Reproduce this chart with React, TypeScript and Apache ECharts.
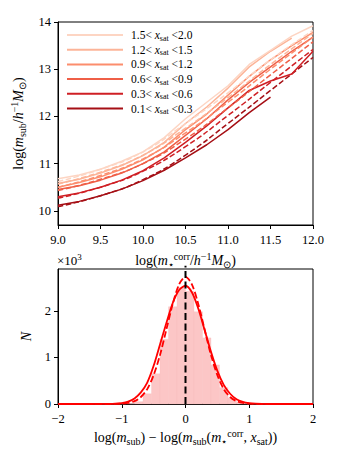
import React, { useEffect, useRef } from "react";
import * as echarts from "echarts";

const SERIF = "'Liberation Serif', 'Times New Roman', serif";

// ---------- top panel data ----------
const X_DATA = [9, 9.25, 9.5, 9.75, 10, 10.25, 10.5, 10.75, 11, 11.25, 11.5, 11.75, 12];
const X_MODEL = [9, 9.5, 10, 10.5, 11, 11.5, 12];

const GROUP_LO = ["0.1", "0.3", "0.6", "0.9", "1.2", "1.5"];
const GROUP_HI = ["0.3", "0.6", "0.9", "1.2", "1.5", "2.0"];
const GROUP_COLORS = ["#a50f15", "#cf1f24", "#ef5f47", "#fc8d6d", "#fcb498", "#fdd5c3"];

// measured (solid) log m_sub
const DATA_01 = [10.12, 10.2, 10.32, 10.46, 10.64, 10.86, 11.12, 11.4, 11.72, 12.08, 12.41];
const DATA_03 = [10.3, 10.38, 10.5, 10.65, 10.85, 11.12, 11.45, 11.8, 12.18, 12.55, 12.75, 12.9, 13.38];
const DATA_06 = [10.45, 10.53, 10.65, 10.8, 11.0, 11.25, 11.6, 11.95, 12.35, 12.72, 13.05, 13.38, 13.68];
const DATA_09 = [10.5, 10.6, 10.72, 10.88, 11.08, 11.35, 11.72, 12.05, 12.45, 12.85, 13.2, 13.5, 13.78];
const DATA_12 = [10.58, 10.67, 10.8, 10.96, 11.17, 11.45, 11.85, 12.2, 12.6, 13.05, 13.38, 13.66];
const DATA_15 = [10.68, 10.76, 10.88, 11.05, 11.25, 11.55, 11.95, 12.3, 12.65, 13.1, 13.4, 13.7, 13.92];

// model (dashed) log m_sub
const MODEL_01 = [10.09, 10.32, 10.66, 11.18, 11.85, 12.55, 13.25];
const MODEL_03 = [10.27, 10.5, 10.84, 11.36, 12.02, 12.72, 13.42];
const MODEL_06 = [10.43, 10.67, 11.0, 11.52, 12.18, 12.88, 13.58];
const MODEL_09 = [10.5, 10.75, 11.1, 11.65, 12.3, 13.0, 13.68];
const MODEL_12 = [10.57, 10.82, 11.18, 11.75, 12.4, 13.1, 13.76];
const MODEL_15 = [10.62, 10.88, 11.25, 11.85, 12.5, 13.2, 13.82];

const TOP_Y_TICKS = [10, 11, 12, 13, 14];

// ---------- bottom panel data (N in units of 10^3) ----------
const HIST_MIN = -2;
const HIST_MAX = 2;
const HIST_COUNTS = [
  0, 0, 0, 0, 0, 0, 0.002, 0.005, 0.01, 0.05, 0.22, 0.65, 1.39, 2.09, 2.5,
  2.42, 1.98, 1.42, 0.84, 0.35, 0.13, 0.03, 0.01, 0.005, 0.002, 0, 0, 0, 0, 0,
];
const X_FIT = [-2, -1.5, -1.2, -1.1, -1.0, -0.9, -0.8, -0.7, -0.6, -0.5, -0.4, -0.3, -0.2, -0.1, 0,
  0.1, 0.2, 0.3, 0.4, 0.5, 0.6, 0.7, 0.8, 0.9, 1.0, 1.1, 1.2, 1.5, 2];
const FIT_SOLID = [0, 0, 0.003, 0.008, 0.021, 0.053, 0.12, 0.25, 0.46, 0.82, 1.28, 1.74, 2.17, 2.45, 2.54,
  2.4, 2.05, 1.59, 1.12, 0.71, 0.41, 0.22, 0.1, 0.045, 0.018, 0.006, 0.002, 0, 0];
const FIT_DASHED = [0, 0, 0.0005, 0.002, 0.007, 0.022, 0.061, 0.15, 0.32, 0.62, 1.05, 1.6, 2.15, 2.57, 2.73,
  2.57, 2.15, 1.6, 1.05, 0.62, 0.32, 0.15, 0.061, 0.022, 0.007, 0.002, 0.0005, 0, 0];
const BOTTOM_Y_TICKS = [0, 1, 2];

const richBase = (size: number, lh: number) => ({
  n: { fontFamily: SERIF, fontSize: size, color: "#000", lineHeight: lh },
  i: { fontFamily: SERIF, fontSize: size, fontStyle: "italic", color: "#000", lineHeight: lh },
  sub: { fontFamily: SERIF, fontSize: Math.round(size * 0.7), color: "#000", lineHeight: Math.round(lh * 0.55), verticalAlign: "bottom" },
  sup: { fontFamily: SERIF, fontSize: Math.round(size * 0.7), color: "#000", lineHeight: Math.round(lh * 0.55), verticalAlign: "top" },
});

export default function App() {
  const ref = useRef<HTMLDivElement>(null);

  useEffect(() => {
    if (!ref.current) return;
    const chart = echarts.init(ref.current, undefined, { renderer: "svg" });

    const dataSets = [DATA_01, DATA_03, DATA_06, DATA_09, DATA_12, DATA_15];
    const modelSets = [MODEL_01, MODEL_03, MODEL_06, MODEL_09, MODEL_12, MODEL_15];
    const names = GROUP_LO.map((lo, i) => `${lo}-${GROUP_HI[i]}`);

    const topSeries: any[] = [];
    dataSets.forEach((vals, g) => {
      topSeries.push({
        type: "line",
        name: names[g],
        xAxisIndex: 0,
        yAxisIndex: 0,
        data: vals.map((v, i) => [X_DATA[i], v]),
        symbol: "none",
        color: GROUP_COLORS[g],
        lineStyle: { width: 1.5, color: GROUP_COLORS[g] },
      });
      topSeries.push({
        type: "line",
        name: names[g] + " model",
        xAxisIndex: 0,
        yAxisIndex: 0,
        data: modelSets[g].map((v, i) => [X_MODEL[i], v]),
        symbol: "none",
        smooth: true,
        color: GROUP_COLORS[g],
        lineStyle: { width: 1.5, color: GROUP_COLORS[g], type: [5.5, 2.5] },
      });
    });

    const nb = HIST_COUNTS.length;
    const bw = (HIST_MAX - HIST_MIN) / nb;
    const histData = HIST_COUNTS.map((c, k) => [HIST_MIN + k * bw, HIST_MIN + (k + 1) * bw, c]);

    const axisLineCommon = { show: true, onZero: false, lineStyle: { color: "#000", width: 1 } };
    const tickCommon = { show: true, inside: false, length: 4, lineStyle: { color: "#000", width: 1 } };
    const richTick = richBase(12.5, 15);
    const labelCommon = { fontFamily: SERIF, fontSize: 12.5, color: "#000", margin: 7, rich: richTick };

    const rich14 = richBase(14, 18);
    const rich11 = richBase(11.5, 14);

    const option: any = {
      animation: false,
      textStyle: { fontFamily: SERIF },
      title: {
        text: "{n|×10}{sup|3}",
        left: 57,
        top: 252,
        padding: 0,
        textStyle: { fontSize: 13, fontWeight: "normal", fontFamily: SERIF, color: "#000", rich: richBase(13, 17) },
      },
      grid: [
        { left: 58, top: 22, width: 255, height: 203, show: true, borderColor: "#000", borderWidth: 1, backgroundColor: "transparent" },
        { left: 58, top: 269, width: 255, height: 135, show: true, borderColor: "#000", borderWidth: 1, backgroundColor: "transparent" },
      ],
      legend: {
        data: names.slice().reverse(),
        orient: "vertical",
        left: 62,
        top: 24,
        itemWidth: 56,
        itemHeight: 2,
        itemGap: 1.7,
        icon: "rect",
        selectedMode: false,
        textStyle: { fontFamily: SERIF, fontSize: 11.5, color: "#000", rich: rich11, padding: [0, 0, 0, 3] },
        formatter: (name: string) => {
          const i = names.indexOf(name);
          return `{n|${GROUP_LO[i]}<} {i|x}{sub|sat} {n|<${GROUP_HI[i]}}`;
        },
      },
      xAxis: [
        {
          gridIndex: 0,
          type: "value",
          min: 9,
          max: 12,
          interval: 0.5,
          axisLine: axisLineCommon,
          axisTick: tickCommon,
          axisLabel: { ...labelCommon, formatter: (v: number) => `{n|${v.toFixed(1)}}` },
          splitLine: { show: false },
          name: "{n|log(}{i|m}{sub|⋆}{sup|corr}{n|/}{i|h}{sup|−1}{i|M}{sub|⊙}{n|)}",
          nameLocation: "middle",
          nameGap: 26,
          nameTextStyle: { rich: rich14 },
        },
        {
          gridIndex: 1,
          type: "value",
          min: -2,
          max: 2,
          interval: 1,
          axisLine: axisLineCommon,
          axisTick: tickCommon,
          axisLabel: { ...labelCommon, formatter: (v: number) => `{n|${v < 0 ? "−" + Math.abs(v) : String(v)}}` },
          splitLine: { show: false },
          name: "{n|log(}{i|m}{sub|sub}{n|) − log(}{i|m}{sub|sub}{n|(}{i|m}{sub|⋆}{sup|corr}{n|, }{i|x}{sub|sat}{n|))}",
          nameLocation: "middle",
          nameGap: 24,
          nameTextStyle: { rich: rich14 },
        },
      ],
      yAxis: [
        {
          gridIndex: 0,
          type: "value",
          min: 9.7,
          max: 14,
          axisLine: axisLineCommon,
          axisTick: { ...tickCommon, customValues: TOP_Y_TICKS },
          axisLabel: { ...labelCommon, customValues: TOP_Y_TICKS, formatter: (v: number) => `{n|${v}}` },
          splitLine: { show: false },
          name: "{n|log(}{i|m}{sub|sub}{n|/}{i|h}{sup|−1}{i|M}{sub|⊙}{n|)}",
          nameLocation: "middle",
          nameRotate: 90,
          nameGap: 27,
          nameTextStyle: { rich: rich14 },
        },
        {
          gridIndex: 1,
          type: "value",
          min: 0,
          max: 2.9,
          axisLine: axisLineCommon,
          axisTick: { ...tickCommon, customValues: BOTTOM_Y_TICKS },
          axisLabel: { ...labelCommon, customValues: BOTTOM_Y_TICKS, formatter: (v: number) => `{n|${v}}` },
          splitLine: { show: false },
          name: "{i|N}",
          nameLocation: "middle",
          nameRotate: 90,
          nameGap: 23,
          nameTextStyle: { rich: rich14 },
        },
      ],
      series: [
        ...topSeries,
        {
          type: "custom",
          name: "hist",
          xAxisIndex: 1,
          yAxisIndex: 1,
          data: histData,
          encode: { x: [0, 1], y: 2 },
          renderItem: (_p: any, api: any) => {
            const p0 = api.coord([api.value(0), api.value(2)]);
            const p1 = api.coord([api.value(1), 0]);
            return {
              type: "rect",
              shape: { x: p0[0], y: p0[1], width: p1[0] - p0[0], height: p1[1] - p0[1] },
              style: { fill: "#fcc6c6", stroke: "#f9bcbc", lineWidth: 0.3 },
            };
          },
        },
        {
          type: "line",
          name: "fit",
          xAxisIndex: 1,
          yAxisIndex: 1,
          data: X_FIT.map((x, i) => [x, FIT_SOLID[i]]),
          symbol: "none",
          smooth: 0.3,
          lineStyle: { color: "#ff0000", width: 1.8 },
          color: "#ff0000",
        },
        {
          type: "line",
          name: "fit2",
          xAxisIndex: 1,
          yAxisIndex: 1,
          data: X_FIT.map((x, i) => [x, FIT_DASHED[i]]),
          symbol: "none",
          smooth: 0.3,
          lineStyle: { color: "#ff0000", width: 1.8, type: [6.5, 2.8] },
          color: "#ff0000",
        },
        {
          type: "line",
          name: "zero",
          xAxisIndex: 1,
          yAxisIndex: 1,
          data: [[0, 0], [0, 2.97]],
          symbol: "none",
          clip: false,
          lineStyle: { color: "#000", width: 2, type: [7, 3.5] },
          color: "#000",
          z: 5,
        },
      ],
    };

    chart.setOption(option);
    return () => chart.dispose();
  }, []);

  return <div ref={ref} style={{ width: 340, height: 450, position: "absolute", left: 0, top: 0, background: "#fff" }} />;
}
